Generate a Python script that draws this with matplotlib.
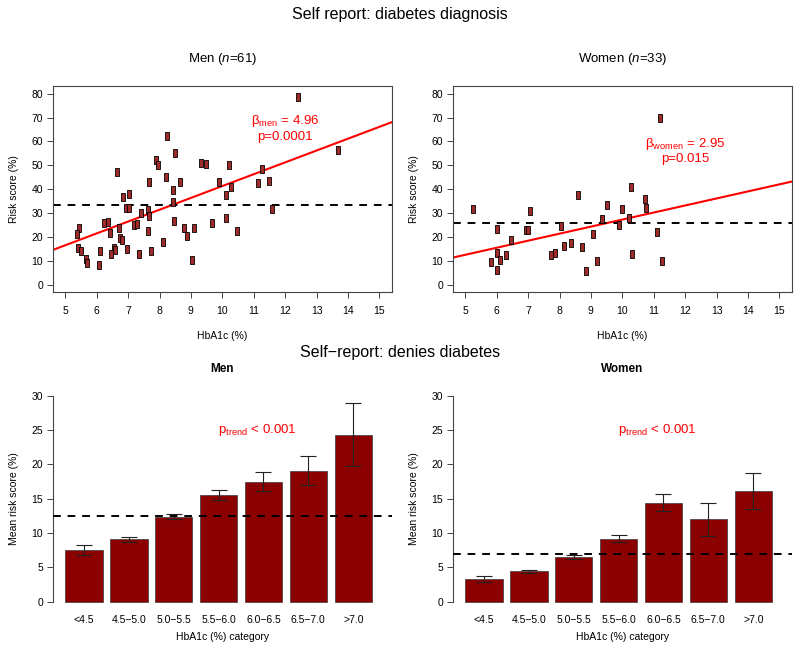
import numpy as np
import matplotlib
matplotlib.use("Agg")
import matplotlib.pyplot as plt
from matplotlib.path import Path

plt.rcParams['font.family'] = ['Liberation Sans', 'DejaVu Sans']
plt.rcParams['mathtext.fontset'] = 'custom'
plt.rcParams['mathtext.rm'] = 'Liberation Sans'
plt.rcParams['mathtext.it'] = 'Liberation Sans:italic'
plt.rcParams['mathtext.bf'] = 'Liberation Sans:bold'

# --- scatter data (HbA1c %, risk score %) ---
men_hba1c = [12.41, 13.69, 8.23, 8.49, 7.90, 7.96, 9.33, 9.47, 10.22, 11.25,
             6.65, 8.21, 7.66, 8.66, 9.88, 11.12, 11.49, 10.28, 8.44, 10.11,
             7.04, 6.85, 6.93, 7.04, 8.42, 7.42, 7.64, 7.65, 11.59, 10.13,
             8.46, 9.66, 6.22, 6.35, 6.71, 7.20, 7.29, 8.77, 9.10, 10.47,
             5.45, 5.36, 6.41, 7.64, 6.73, 6.80, 8.86, 8.12, 5.41, 5.50,
             6.09, 6.55, 6.57, 6.98, 7.72, 6.45, 7.34, 5.67, 5.70, 6.06, 9.02]
men_risk = [78.7, 56.5, 62.4, 55.0, 52.2, 50.1, 50.8, 50.5, 50.2, 48.4,
            47.0, 45.2, 42.8, 43.1, 42.8, 42.5, 43.5, 41.1, 39.7, 37.6,
            37.9, 36.8, 31.9, 31.9, 34.7, 30.2, 31.2, 28.7, 31.6, 28.1,
            26.7, 26.0, 25.7, 26.4, 23.9, 25.0, 25.6, 23.9, 23.6, 22.4,
            23.6, 21.2, 21.5, 22.4, 19.6, 18.6, 20.4, 17.7, 15.5, 14.0,
            14.1, 15.2, 14.5, 14.8, 14.3, 13.0, 12.7, 10.6, 9.2, 8.1, 10.3]

women_hba1c = [5.24, 5.81, 6.01, 6.02, 6.01, 6.11, 6.31, 6.45, 6.94, 7.00,
               7.07, 7.74, 7.85, 8.05, 8.15, 8.35, 8.59, 8.72, 8.84, 9.05,
               9.18, 9.34, 9.52, 9.89, 9.98, 10.22, 10.28, 10.30, 10.73, 10.74,
               11.11, 11.19, 11.27]
women_risk = [31.6, 9.5, 23.3, 13.1, 6.0, 10.2, 12.4, 18.9, 22.9, 22.7,
              30.8, 12.3, 13.1, 24.6, 16.1, 17.5, 37.5, 15.8, 5.9, 21.2,
              9.9, 27.4, 33.4, 25.0, 31.7, 28.1, 41.1, 12.8, 35.8, 32.0,
              22.2, 69.7, 10.1]

men_fit = (-8.3, 4.96)      # intercept, slope
women_fit = (-2.24, 2.95)
men_ref = 33.2
women_ref = 26.0

# --- bar data ---
categories = ['<4.5', '4.5\u22125.0', '5.0\u22125.5', '5.5\u22126.0',
              '6.0\u22126.5', '6.5\u22127.0', '>7.0']
men_mean = [7.5, 9.1, 12.4, 15.5, 17.5, 19.1, 24.3]
men_err = [0.7, 0.35, 0.4, 0.75, 1.35, 2.15, 4.6]
women_mean = [3.3, 4.4, 6.5, 9.2, 14.4, 12.0, 16.1]
women_err = [0.45, 0.25, 0.3, 0.5, 1.25, 2.4, 2.65]
men_bar_ref = 12.5
women_bar_ref = 7.0

fig = plt.figure(figsize=(8, 6.57), dpi=100)

# tall narrow box marker
rect = Path([(-0.27, -0.5), (0.27, -0.5), (0.27, 0.5), (-0.27, 0.5), (-0.27, -0.5)],
            [Path.MOVETO, Path.LINETO, Path.LINETO, Path.LINETO, Path.CLOSEPOLY])

W, H = 800.0, 657.0


def pos(left, top, right, bottom):
    return [left / W, 1 - bottom / H, (right - left) / W, (bottom - top) / H]


def scatter_panel(ax, x, y, fit, ref, label, stat_lines, stat_y):
    ax.scatter(x, y, marker=rect, s=26, facecolor='#a02a2a', edgecolor='black',
               linewidths=0.6, zorder=3)
    xs = np.array([4.6, 15.4])
    ax.plot(xs, fit[0] + fit[1] * xs, color='red', lw=1.5, zorder=2)
    ax.axhline(ref, color='black', lw=1.4, dashes=(4, 3.5), zorder=2)
    ax.set_xlim(4.6, 15.4)
    ax.set_ylim(-3.2, 83.2)
    ax.set_xticks(range(5, 16))
    ax.set_yticks(range(0, 81, 10))
    ax.tick_params(labelsize=7.5, length=4, width=0.7, color='#444444')
    ax.tick_params(axis='x', pad=6)
    ax.tick_params(axis='y', pad=3)
    for s in ax.spines.values():
        s.set_linewidth(0.8)
        s.set_color('#444444')
    ax.set_xlabel('HbA1c (%)', fontsize=7.5, labelpad=11)
    ax.set_ylabel('Risk score (%)', fontsize=7.5, labelpad=9)
    ax.set_title(label, fontsize=9.5, pad=17)
    for txt, yy in zip(stat_lines, stat_y):
        ax.text(12.0, yy, txt, color='red', fontsize=9.5, ha='center', va='center')


def bar_panel(ax, means, errs, ref, label):
    xpos = 0.7 + 1.2 * np.arange(len(categories))
    ax.bar(xpos, means, width=1.0, color='#8b0000', edgecolor='#3a3a3a', linewidth=0.5,
           zorder=2)
    ax.errorbar(xpos, means, yerr=errs, fmt='none', ecolor='#222222', elinewidth=0.8,
                capsize=5.5, capthick=0.8, zorder=3)
    ax.axhline(ref, color='black', lw=1.4, dashes=(4, 3.5), zorder=4)
    ax.set_xlim(-0.136, 8.936)
    ax.set_ylim(-1.2, 31.2)
    ax.set_xticks(xpos)
    ax.set_xticklabels(categories)
    ax.set_yticks(range(0, 31, 5))
    for s in ['top', 'right', 'bottom']:
        ax.spines[s].set_visible(False)
    ax.spines['left'].set_bounds(0, 30)
    ax.spines['left'].set_linewidth(0.8)
    ax.spines['left'].set_color('#444444')
    ax.tick_params(axis='y', labelsize=7.5, length=4, width=0.7, color='#444444', pad=3)
    ax.tick_params(axis='x', labelsize=7.5, length=0, pad=4)
    ax.set_xlabel('HbA1c (%) category', fontsize=7.5, labelpad=5)
    ax.set_ylabel('Mean risk score (%)', fontsize=7.5, labelpad=9)
    ax.set_title(label, fontsize=8.5, fontweight='bold', pad=11)
    ax.text(5.34, 25.0, r'$\mathregular{p_{trend}}$ < 0.001', color='red', fontsize=9.5,
            ha='center', va='center')


ax1 = fig.add_axes(pos(52.7, 86, 392, 292.3))
scatter_panel(ax1, men_hba1c, men_risk, men_fit, men_ref, r'Men ($\mathit{n}$=61)',
              (r'$\mathregular{\beta_{men}}$ = 4.96', 'p=0.0001'), (68.5, 61.8))
ax2 = fig.add_axes(pos(452.7, 86, 792, 292.3))
scatter_panel(ax2, women_hba1c, women_risk, women_fit, women_ref, r'Women ($\mathit{n}$=33)',
              (r'$\mathregular{\beta_{women}}$ = 2.95', 'p=0.015'), (58.9, 52.6))

ax3 = fig.add_axes(pos(52.7, 387.5, 392, 609.9))
bar_panel(ax3, men_mean, men_err, men_bar_ref, 'Men')
ax4 = fig.add_axes(pos(452.7, 387.5, 792, 609.9))
bar_panel(ax4, women_mean, women_err, women_bar_ref, 'Women')

fig.text(0.5, 1 - 14 / H, 'Self report: diabetes diagnosis', fontsize=11.5,
         ha='center', va='center')
fig.text(0.5, 1 - 352 / H, 'Self\u2212report: denies diabetes', fontsize=11.5,
         ha='center', va='center')

fig.savefig('out.png', dpi=100)
